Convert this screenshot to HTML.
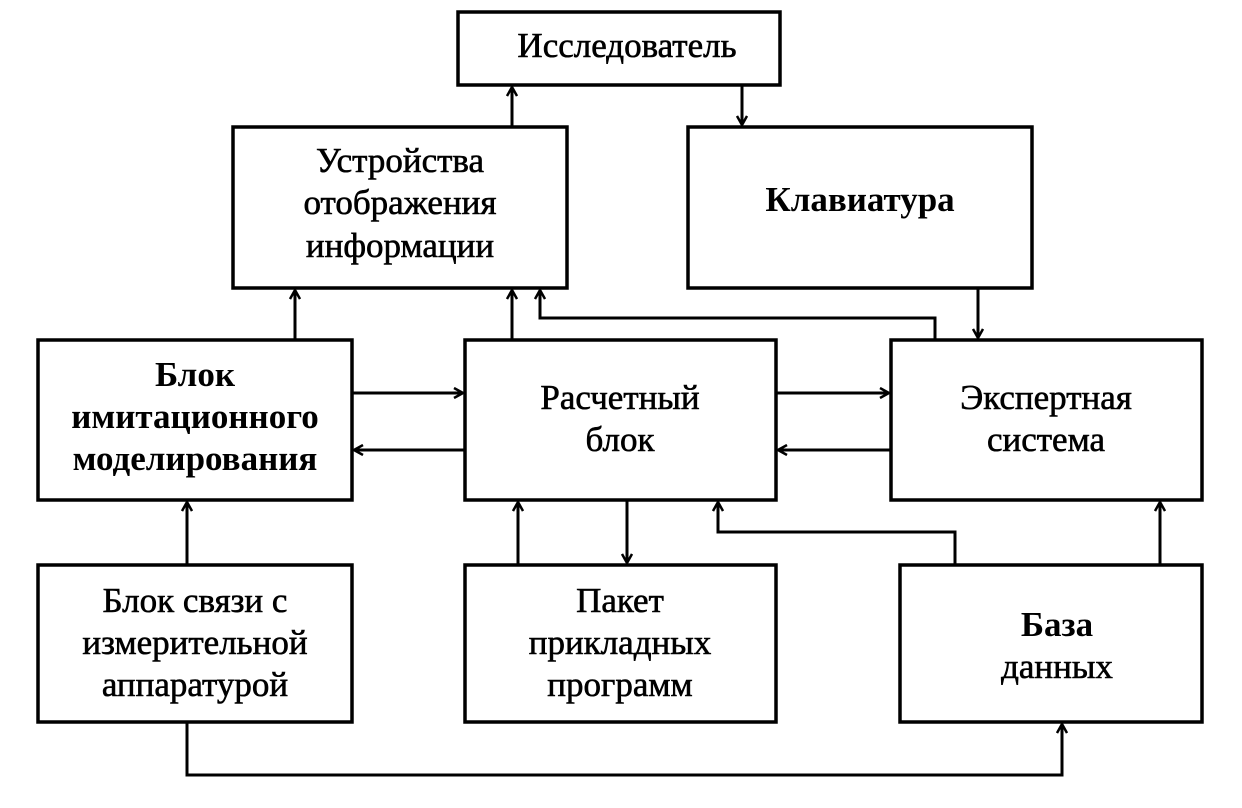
<!DOCTYPE html>
<html><head><meta charset="utf-8"><style>
html,body{margin:0;padding:0;background:#fff}
body{width:1242px;height:803px;overflow:hidden}
</style></head><body>
<svg width="1242" height="803" viewBox="0 0 1242 803" xmlns="http://www.w3.org/2000/svg">
<defs>
<marker id="a" markerWidth="12" markerHeight="12" refX="10" refY="6" orient="auto" markerUnits="userSpaceOnUse">
<path d="M1,1 L10,6 L1,11" fill="none" stroke="#000" stroke-width="2.5"/>
</marker>
</defs>
<g fill="none" stroke="#000" stroke-width="3.5">
<rect x="458" y="12" width="322" height="73"/>
<rect x="233" y="127" width="334" height="161"/>
<rect x="688" y="127" width="344" height="161"/>
<rect x="38" y="340" width="314" height="160"/>
<rect x="465" y="340" width="311" height="160"/>
<rect x="891" y="340" width="311" height="160"/>
<rect x="38" y="565" width="314" height="157"/>
<rect x="465" y="565" width="311" height="157"/>
<rect x="900" y="565" width="302" height="157"/>
</g>
<g fill="none" stroke="#000" stroke-width="3" marker-end="url(#a)">
<path d="M512 127 V87"/>
<path d="M742 85 V125"/>
<path d="M295 340 V290"/>
<path d="M512 340 V290"/>
<path d="M935 340 V318 H540 V290"/>
<path d="M978 288 V338"/>
<path d="M352 393 H463"/>
<path d="M465 450 H354"/>
<path d="M776 393 H889"/>
<path d="M891 450 H778"/>
<path d="M187 565 V502"/>
<path d="M518 565 V502"/>
<path d="M627 500 V563"/>
<path d="M955 565 V532 H718 V502"/>
<path d="M1160 565 V502"/>
<path d="M187 722 V775 H1062 V724"/>
</g>
<g font-family="Liberation Serif, serif" font-size="35" text-anchor="middle" fill="#000" stroke="#000" stroke-width="0.6">
<text x="627" y="57">Исследователь</text>
<text x="400" y="172">Устройства</text>
<text x="400" y="214">отображения</text>
<text x="400" y="257">информации</text>
<text x="860" y="211" font-weight="bold" stroke-width="0">Клавиатура</text>
<text x="195" y="386" font-weight="bold" stroke-width="0">Блок</text>
<text x="195" y="428" font-weight="bold" stroke-width="0">имитационного</text>
<text x="195" y="470" font-weight="bold" stroke-width="0">моделирования</text>
<text x="620" y="409">Расчетный</text>
<text x="620" y="451">блок</text>
<text x="1046" y="409">Экспертная</text>
<text x="1046" y="451">система</text>
<text x="195" y="612">Блок связи с</text>
<text x="195" y="654">измерительной</text>
<text x="195" y="696">аппаратурой</text>
<text x="620" y="612">Пакет</text>
<text x="620" y="654">прикладных</text>
<text x="620" y="696">программ</text>
<text x="1057" y="636" font-weight="bold" stroke-width="0">База</text>
<text x="1057" y="678">данных</text>
</g>
</svg>
</body></html>
